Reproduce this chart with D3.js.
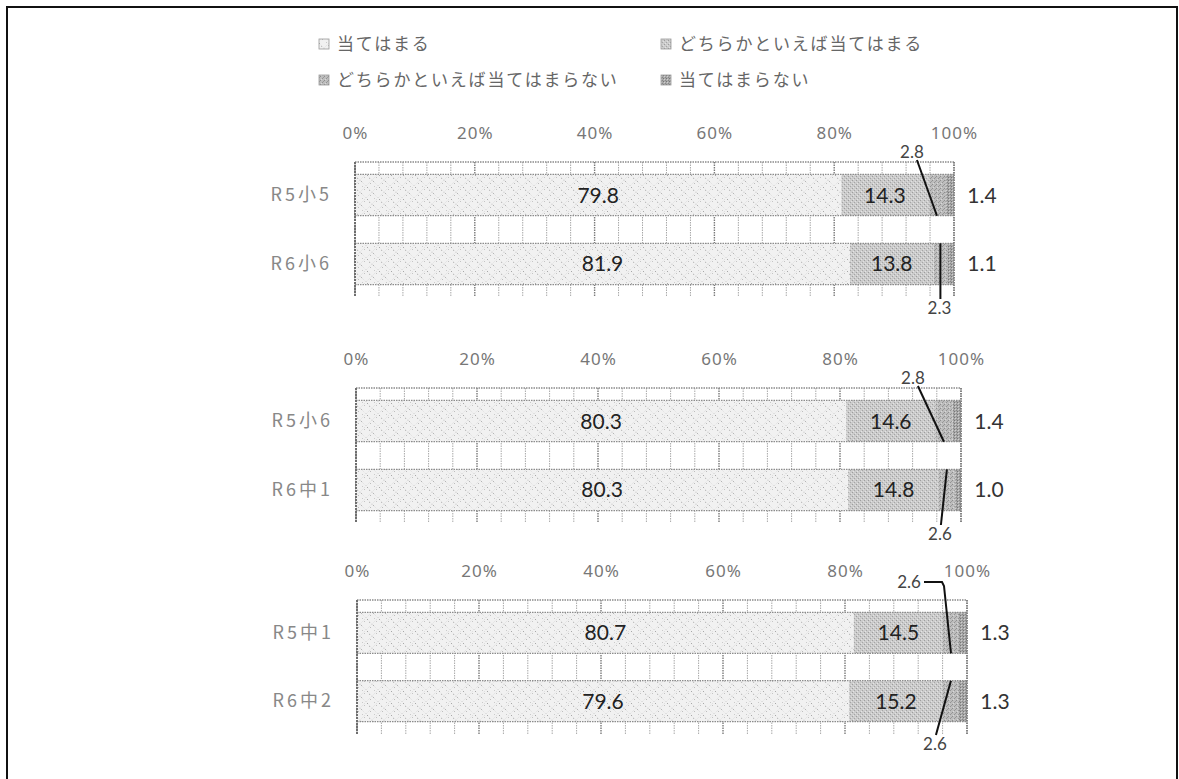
<!DOCTYPE html>
<html><head><meta charset="utf-8">
<script src="https://cdn.jsdelivr.net/npm/d3@7"></script>
<style>
html,body{margin:0;padding:0;background:#fff;}
svg{display:block;}
</style></head>
<body>
<script>
// ---- data ----
const seriesNames = ["当てはまる","どちらかといえば当てはまる","どちらかといえば当てはまらない","当てはまらない"];
const chartCategories = [["R5小5","R6小6"],["R5小6","R6中1"],["R5中1","R6中2"]];
const atehamaru   = [[79.8,81.9],[80.3,80.3],[80.7,79.6]];
const dochiraAte  = [[14.3,13.8],[14.6,14.8],[14.5,15.2]];
const dochiraNot  = [[2.8,2.3],[2.8,2.6],[2.6,2.6]];
const notAte      = [[1.4,1.1],[1.4,1.0],[1.3,1.3]];
const tickValues  = [0,0.2,0.4,0.6,0.8,1.0];
const tickLabels  = ["0%","20%","40%","60%","80%","100%"];

// ---- layout (not data) ----
const W = 1179, H = 779;
const panels = [
  {top:162, bottom:297, left:355, right:954},
  {top:388, bottom:523, left:356, right:961},
  {top:600, bottom:734, left:357, right:967}
];
const leaders = [
  [{side:"above", dx:-25, dy:-10}, {side:"below", dx:-1, dy:11}],
  [{side:"above", dx:-31, dy:-10}, {side:"below", dx:-7, dy:11}],
  [{side:"above", dx:-42, dy:-18, elbow:true}, {side:"below", dx:-16, dy:10}]
];
const keys = ["a","b","c","d"];

const svg = d3.select("body").append("svg").attr("width",W).attr("height",H);
const defs = svg.append("defs");

function makePattern(id, size, bg, dots, lines){
  const p = defs.append("pattern").attr("id",id).attr("patternUnits","userSpaceOnUse")
    .attr("width",size).attr("height",size);
  p.append("rect").attr("width",size).attr("height",size).attr("fill",bg);
  (lines||[]).forEach(l=>p.append("line").attr("x1",l[0]).attr("y1",l[1]).attr("x2",l[2]).attr("y2",l[3])
      .attr("stroke",l[4]).attr("stroke-width",0.8).attr("stroke-dasharray","1,1.5"));
  dots.forEach(d=>p.append("rect").attr("x",d[0]).attr("y",d[1]).attr("width",1).attr("height",1).attr("fill",d[2]));
}
makePattern("p0",12,"#f1f1f1",
  [[1,1,"#b5b5b5"],[7,7,"#a8a8a8"],[4,9,"#c4c4c4"],[10,3,"#bdbdbd"],[2,6,"#cacaca"],[9,10,"#c0c0c0"]],
  [[0,0,12,12,"#d0d0d0"],[12,0,0,12,"#d0d0d0"]]);
makePattern("p1",4,"#cbcbcb",[[0,0,"#9d9d9d"],[2,2,"#a5a5a5"],[1,3,"#e4e4e4"],[3,1,"#e0e0e0"]]);
makePattern("p2",4,"#bdbdbd",[[0,0,"#8e8e8e"],[2,2,"#939393"],[1,3,"#d8d8d8"],[3,1,"#9a9a9a"]]);
makePattern("p3",3,"#a9a9a9",[[0,0,"#777"],[1,1,"#cfcfcf"],[2,2,"#888"]]);
const fills = ["url(#p0)","url(#p1)","url(#p2)","url(#p3)"];

// frame
svg.append("path").attr("d",`M7,${H} V7 H1177 V${H}`).attr("fill","none").attr("stroke","#111").attr("stroke-width",2);

// legend
const legendPos = [[319,44],[661,44],[319,80],[661,80]];
const lg = svg.append("g");
seriesNames.forEach((n,i)=>{
  const [x,y] = legendPos[i];
  lg.append("rect").attr("x",x).attr("y",y-5).attr("width",10).attr("height",10)
    .attr("fill",fills[i]).attr("stroke","#999").attr("stroke-width",0.8);
  lg.append("text").attr("x",x+18).attr("y",y).attr("dy","0.36em")
    .attr("font-family","'Noto Sans CJK JP'").attr("font-size",17).attr("letter-spacing",1.8)
    .attr("fill","#666").text(n);
});

panels.forEach((P,ci)=>{
  const cats = chartCategories[ci];
  const rows = cats.map((c,j)=>({cat:c, a:atehamaru[ci][j], b:dochiraAte[ci][j], c:dochiraNot[ci][j], d:notAte[ci][j]}));
  const stacked = d3.stack().keys(keys).offset(d3.stackOffsetExpand)(rows);
  const x = d3.scaleLinear().domain([0,1]).range([P.left,P.right]);
  const y = d3.scaleBand().domain(cats).range([P.top,P.bottom]).paddingInner(0.4).paddingOuter(0.18);
  const g = svg.append("g");

  // gridlines (minor every 4%)
  const grid = d3.range(0,1.0001,0.04);
  g.selectAll("line.grid").data(grid).join("line")
    .attr("x1",d=>x(d)).attr("x2",d=>x(d)).attr("y1",P.top).attr("y2",P.bottom)
    .attr("stroke",d=>Math.abs(Math.round(d*5)-d*5)<1e-6 ? "#7a7a7a" : "#a8a8a8")
    .attr("stroke-width",d=>Math.abs(Math.round(d*5)-d*5)<1e-6 ? 1.4 : 1)
    .attr("stroke-dasharray","1.5,1");
  g.append("line").attr("x1",P.left).attr("x2",P.right).attr("y1",P.top).attr("y2",P.top)
    .attr("stroke","#8a8a8a").attr("stroke-width",1.4).attr("stroke-dasharray","1.5,1");

  // top axis labels
  const ax = d3.axisTop(x).tickValues(tickValues).tickFormat((d,i)=>tickLabels[i]).tickSize(0).tickPadding(23);
  const axg = g.append("g").attr("transform",`translate(0,${P.top})`).call(ax);
  axg.select(".domain").remove();
  axg.selectAll("text").attr("font-family","'Noto Sans'").attr("font-size",17).attr("letter-spacing",1)
    .attr("fill","#777");

  // left category labels
  const ay = d3.axisLeft(y).tickSize(0).tickPadding(23);
  const ayg = g.append("g").attr("transform",`translate(${P.left},0)`).call(ay);
  ayg.select(".domain").remove();
  ayg.selectAll("text").attr("font-family","'Noto Sans CJK JP'").attr("font-size",18).attr("letter-spacing",3)
    .attr("fill","#888");

  // bars
  stacked.forEach((s,si)=>{
    g.selectAll(null).data(s).join("rect")
      .attr("x",d=>x(d[0])).attr("width",d=>x(d[1])-x(d[0]))
      .attr("y",d=>y(d.data.cat)).attr("height",y.bandwidth())
      .attr("fill",fills[si]);
  });
  // bar edges
  cats.forEach(c=>{
    [y(c), y(c)+y.bandwidth()].forEach(yy=>{
      g.append("line").attr("x1",P.left).attr("x2",P.right).attr("y1",yy).attr("y2",yy)
       .attr("stroke","#8c8c8c").attr("stroke-width",1.2).attr("stroke-dasharray","1.5,1");
    });
  });
  // left axis line
  g.append("line").attr("x1",P.left).attr("x2",P.left).attr("y1",P.top).attr("y2",P.bottom)
    .attr("stroke","#6e6e6e").attr("stroke-width",2).attr("stroke-dasharray","2,1");
  g.append("line").attr("x1",P.right).attr("x2",P.right).attr("y1",P.top).attr("y2",P.bottom)
    .attr("stroke","#7a7a7a").attr("stroke-width",1.4).attr("stroke-dasharray","1.5,1");

  const valFont = "Lato";
  // series 1 and 2 labels centered
  [0,1].forEach(si=>{
    g.selectAll(null).data(stacked[si]).join("text")
      .attr("x",d=>x((d[0]+d[1])/2)).attr("y",d=>y(d.data.cat)+y.bandwidth()/2).attr("dy","0.36em")
      .attr("text-anchor","middle").attr("font-family",valFont).attr("font-size",21).attr("fill","#222")
      .text(d=>d3.format(".1f")(d.data[keys[si]]));
  });
  // series 4 labels to the right
  g.selectAll(null).data(stacked[3]).join("text")
    .attr("x",P.right+28).attr("y",d=>y(d.data.cat)+y.bandwidth()/2).attr("dy","0.36em")
    .attr("text-anchor","middle").attr("font-family",valFont).attr("font-size",21).attr("fill","#333")
    .text(d=>d3.format(".1f")(d.data.d));
  // series 3 labels with leader lines
  stacked[2].forEach((d,j)=>{
    const L = leaders[ci][j];
    const cx = x((d[0]+d[1])/2);
    const bt = y(d.data.cat), bb = bt + y.bandwidth();
    const lx = cx + L.dx;
    const ly = L.side==="above" ? P.top + L.dy : P.bottom + L.dy;
    g.append("text").attr("x",lx).attr("y",ly).attr("dy","0.36em").attr("text-anchor","middle")
      .attr("font-family",valFont).attr("font-size",17).attr("fill","#444")
      .text(d3.format(".1f")(d.data.c));
    let pts;
    if (L.elbow) {
      pts = [[lx+15,ly],[cx-9,ly],[cx-7,ly+4],[cx,bb]];
    } else if (L.side==="above") {
      pts = [[lx+5,ly+8],[cx,bb]];
    } else {
      pts = [[cx,bt],[lx+1,ly-9]];
    }
    g.append("path").attr("d",d3.line()(pts)).attr("fill","none").attr("stroke","#111").attr("stroke-width",2);
  });
});
</script>
</body></html>
